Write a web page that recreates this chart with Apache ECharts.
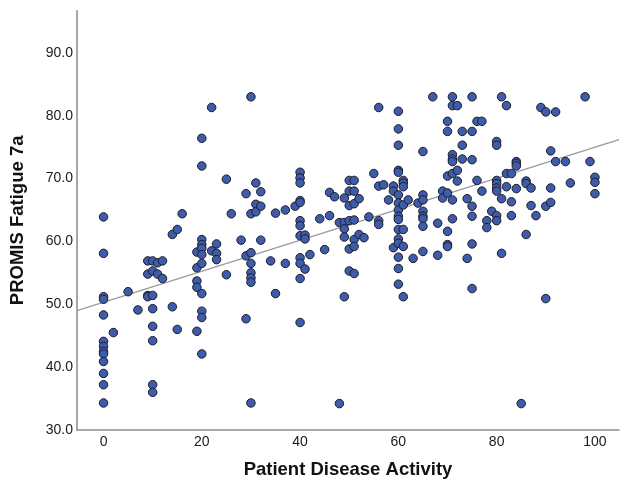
<!DOCTYPE html>
<html><head><meta charset="utf-8">
<script src="https://cdn.jsdelivr.net/npm/echarts@6/dist/echarts.min.js"></script>
<style>html,body{margin:0;padding:0;background:#fff}#c{width:622px;height:484px}</style>
</head><body><div id="c"></div>
<script>
// Patient Disease Activity (x) and PROMIS Fatigue 7a (y), paired by index
const activity = [
  0,0,0,0,0,0,0,0,0,0,0,0,0,
  2,5,7,
  9,9,9,9,
  10,10,10,10,10,10,10,10,
  11,11,12,12,14,14,15,15,16,
  19,19,19,19,19,
  20,20,20,20,20,20,20,20,20,20,20,
  22,22,23,23,23,25,25,26,28,29,29,29,
  30,30,30,30,30,30,30,30,
  31,31,31,32,32,32,34,35,35,37,37,39,
  40,40,40,40,40,40,40,40,40,40,40,40,
  41,41,41,42,44,45,46,46,47,48,48,
  49,49,49,49,49,
  50,50,50,50,50,50,
  51,51,51,51,51,51,51,
  52,52,53,54,55,56,56,56,56,57,58,59,59,59,
  60,60,60,60,60,60,60,60,60,60,60,60,60,60,60,60,
  61,61,61,61,61,61,61,
  62,63,64,
  65,65,65,65,65,65,65,65,
  67,68,68,69,69,
  70,70,70,70,70,70,70,
  71,71,71,71,71,71,71,71,
  72,72,72,73,73,73,74,74,
  75,75,75,75,75,75,75,
  76,76,77,77,78,78,79,
  80,80,80,80,80,80,80,80,
  81,81,81,82,82,82,83,83,83,84,84,84,84,85,
  86,86,86,87,87,88,89,90,90,90,91,91,91,92,92,94,95,98,99,
  100,100,100
];
const fatigue = [
  63.9,58.1,51.2,50.8,48.3,44.1,43.3,42.5,42.1,40.9,39.0,37.2,34.3,
  45.5,52.0,49.1,
  56.9,54.8,51.4,51.2,
  56.9,55.3,51.4,49.3,46.5,44.2,37.2,36.0,
  56.6,54.8,56.9,54.1,61.1,49.6,61.9,46.0,64.4,
  58.3,55.8,53.7,52.7,45.7,
  76.4,72.0,60.3,59.5,58.9,57.9,56.5,51.7,48.9,47.9,42.1,
  81.3,58.5,59.6,58.1,57.1,69.9,54.7,64.4,60.2,67.6,57.7,47.7,
  83.0,64.4,58.2,56.5,55.0,54.2,53.5,34.3,
  69.3,65.9,64.7,67.9,65.6,60.2,56.9,64.5,51.7,65.0,56.5,65.6,
  71.0,70.1,69.3,66.5,66.2,63.3,62.5,60.9,57.4,56.5,54.1,47.1,
  61.0,60.4,55.6,57.9,63.6,58.7,67.8,64.1,67.1,63.0,34.2,
  66.9,63.0,62.0,60.7,51.2,
  69.7,68.0,65.7,63.3,58.8,55.3,
  69.7,68.0,66.0,63.4,60.3,59.2,54.9,
  66.8,61.1,60.6,63.9,70.8,81.3,68.8,63.3,62.7,69.0,66.6,68.8,68.0,59.0,
  80.7,77.9,75.3,71.3,71.0,67.4,66.1,65.0,64.0,63.5,61.9,60.4,59.7,57.5,55.7,53.2,
  69.7,69.3,68.7,65.8,61.9,59.2,51.2,
  66.6,57.3,66.1,
  74.3,67.4,66.6,64.8,64.0,63.6,62.4,58.4,
  83.0,62.9,57.8,68.0,66.9,
  79.1,77.5,70.4,67.7,61.6,59.5,59.2,
  83.0,81.6,73.8,73.1,72.7,70.8,66.6,63.6,
  81.6,71.3,69.6,77.5,75.3,73.1,66.8,57.3,
  83.0,77.5,73.0,65.6,64.0,59.6,52.5,
  79.1,69.7,79.1,68.0,63.3,62.2,64.8,
  75.9,75.3,69.7,69.2,68.5,68.0,64.1,63.3,
  83.0,66.8,58.1,81.6,70.8,68.7,70.8,66.3,64.1,72.7,72.4,72.0,68.4,34.2,
  69.6,69.2,61.1,68.5,65.7,64.1,81.3,80.6,65.6,50.9,74.4,68.5,66.2,80.6,72.7,72.7,69.3,83.0,72.7,
  70.2,69.4,67.6
];
// fit line end points (at the plot's left and right edges)
const fitLine = [[-5.4, 49.0], [104.9, 76.2]];
const xTicks = [0, 20, 40, 60, 80, 100];
const yTicks = [30, 40, 50, 60, 70, 80, 90];

const points = activity.map((x, i) => [x, fatigue[i]]);
const FONT = '"Liberation Sans", Arial, Helvetica, sans-serif';

const chart = echarts.init(document.getElementById('c'), null, {renderer: 'canvas'});
chart.setOption({
  animation: false,
  backgroundColor: '#ffffff',
  grid: {left: 76, right: 0, top: 10.7, bottom: 52, containLabel: false},
  xAxis: {
    type: 'value', min: -5.4, max: 104.9, splitNumber: 5,
    name: 'Patient Disease Activity', nameLocation: 'middle', nameGap: 30,
    nameTextStyle: {fontFamily: FONT, fontSize: 18.5, fontWeight: 'bold', color: '#111'},
    axisLine: {onZero: false, lineStyle: {color: '#8a8a8a', width: 1.5}},
    axisTick: {show: false}, splitLine: {show: false},
    axisLabel: {fontFamily: FONT, fontSize: 14, color: '#1a1a1a', margin: 5,
      formatter: v => xTicks.indexOf(v) >= 0 ? String(v) : ''}
  },
  yAxis: {
    type: 'value', min: 30, max: 96.7, interval: 10,
    name: 'PROMIS Fatigue 7a', nameLocation: 'middle', nameGap: 50,
    nameTextStyle: {fontFamily: FONT, fontSize: 18.5, fontWeight: 'bold', color: '#111'},
    axisLine: {onZero: false, lineStyle: {color: '#8a8a8a', width: 1.5}},
    axisTick: {show: false}, splitLine: {show: false},
    axisLabel: {fontFamily: FONT, fontSize: 14, color: '#1a1a1a', margin: 4, showMaxLabel: false,
      formatter: v => yTicks.indexOf(v) >= 0 ? v.toFixed(1) : ''}
  },
  series: [
    {type: 'line', data: fitLine, symbol: 'none', silent: true, z: 1,
     lineStyle: {color: '#9a9a9a', width: 1.2}},
    {type: 'scatter', data: points, symbol: 'circle', symbolSize: 8.5, z: 2,
     itemStyle: {color: '#3f5caa', borderColor: '#1c1c28', borderWidth: 1, opacity: 1}}
  ]
});
</script></body></html>
